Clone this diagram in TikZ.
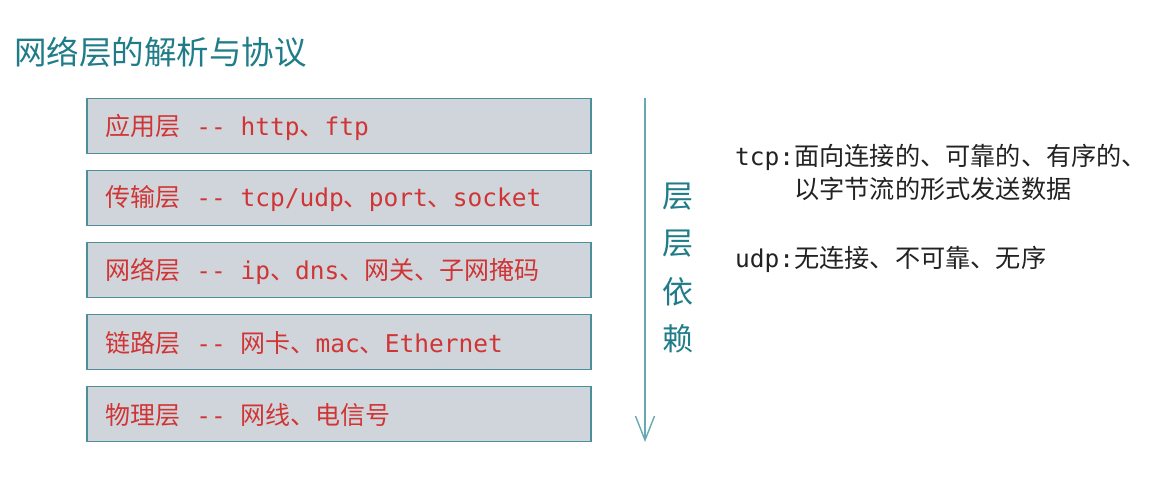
\documentclass[tikz,border=0pt]{standalone}
\usepackage{fontspec}
\newfontfamily\cjk{Noto Sans CJK SC}
\newfontfamily\mono{DejaVu Sans Mono}
\usetikzlibrary{arrows.meta}
\definecolor{boxfill}{HTML}{D0D5DB}
\definecolor{boxline}{HTML}{4A8F99}
\definecolor{redtxt}{HTML}{D03535}
\definecolor{titlecol}{HTML}{1F7C88}
\definecolor{arrowcol}{HTML}{66A9B2}
\definecolor{darktxt}{HTML}{222222}
\newcommand{\boxcjk}{\cjk\fontsize{25}{27}\selectfont}
\newcommand{\boxmono}{\mono\fontsize{24.5}{27}\selectfont}
\newcommand{\sidecjk}{\cjk\fontsize{25.2}{28}\selectfont}
\newcommand{\sidemono}{\mono\fontsize{24.5}{28}\selectfont}
\newcommand{\sep}{{\boxmono\ }\hspace{1.5pt}}
\tikzset{
  layerbox/.style={draw=boxline, line width=1.6pt, fill=boxfill, minimum width=504pt, minimum height=55pt, anchor=west, inner sep=0pt},
  layertext/.style={anchor=west, text=redtxt, inner sep=0pt},
  sidetext/.style={anchor=west, text=darktxt, inner sep=0pt},
  vchar/.style={text=titlecol, font=\cjk\fontsize{31}{33}\selectfont, inner sep=0pt}
}
\begin{document}
\begin{tikzpicture}[x=1pt,y=-1pt]
\useasboundingbox (0,0) rectangle (1167,479);
\node[anchor=west, text=titlecol, font=\cjk\fontsize{32.5}{35}\selectfont, inner sep=0pt] (title) at (14,52) {网络层的解析与协议};

\node[layerbox] (b1) at (86,126) {};
\node[layerbox] (b2) at (86,198) {};
\node[layerbox] (b3) at (86,270) {};
\node[layerbox] (b4) at (86,342) {};
\node[layerbox] (b5) at (86,414) {};

\node[layertext] (t1) at (105,127) {{\boxcjk 应用层}\sep{\boxmono -- http}{\boxcjk 、}{\boxmono ftp}};
\node[layertext] (t2) at (105,199) {{\boxcjk 传输层}\sep{\boxmono -- tcp/udp}{\boxcjk 、}{\boxmono port}{\boxcjk 、}{\boxmono socket}};
\node[layertext] (t3) at (105,271) {{\boxcjk 网络层}\sep{\boxmono -- ip}{\boxcjk 、}{\boxmono dns}{\boxcjk 、网关、子网掩码}};
\node[layertext] (t4) at (105,343) {{\boxcjk 链路层}\sep{\boxmono -- }{\boxcjk 网卡、}{\boxmono mac}{\boxcjk 、}{\boxmono Ethernet}};
\node[layertext] (t5) at (105,415) {{\boxcjk 物理层}\sep{\boxmono -- }{\boxcjk 网线、电信号}};

\coordinate (atop) at (645,98);
\coordinate (abot) at (645,442);
\draw[arrowcol, line width=1.4pt, -{Straight Barb[length=24pt,width=19pt,line width=1.4pt]}] (atop) -- (abot);

\node[vchar] (v1) at (678,197) {层};
\node[vchar] (v2) at (678,244) {层};
\node[vchar] (v3) at (678,292) {依};
\node[vchar] (v4) at (678,339) {赖};

\node[sidetext] (tcp) at (735,157) {{\sidemono tcp:}{\sidecjk 面向连接的、可靠的、有序的、}};
\node[sidetext] (tcp2) at (794,189) {{\sidecjk 以字节流的形式发送数据}};
\node[sidetext] (udp) at (735,259) {{\sidemono udp:}{\sidecjk 无连接、不可靠、无序}};
\end{tikzpicture}
\end{document}
